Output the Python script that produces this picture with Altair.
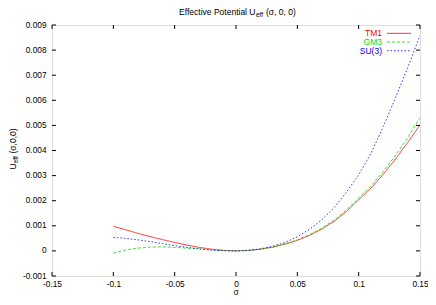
import altair as alt
import pandas as pd

# ---- data ----
sigma = [-0.10, -0.09, -0.08, -0.07, -0.06, -0.05, -0.04, -0.03, -0.02, -0.01, 0.0,
         0.01, 0.02, 0.03, 0.04, 0.05, 0.06, 0.07, 0.08, 0.09, 0.10,
         0.11, 0.12, 0.13, 0.14, 0.15]
tm1 = [0.00098, 0.00084, 0.00070, 0.00057, 0.00045, 0.00034, 0.00023, 0.00014, 0.00007, 0.00002, 0.0,
       0.00002, 0.00007, 0.00015, 0.00027, 0.00042, 0.00062, 0.00087, 0.00118, 0.00157, 0.00204,
       0.00250, 0.00305, 0.00366, 0.00432, 0.00502]
gm3 = [-0.00009, 0.00004, 0.00011, 0.00015, 0.00016, 0.00014, 0.00011, 0.00008, 0.00004, 0.00001, 0.0,
       0.00002, 0.00007, 0.00015, 0.00028, 0.00044, 0.00065, 0.00091, 0.00123, 0.00163, 0.00211,
       0.00259, 0.00316, 0.00380, 0.00451, 0.00531]
su3 = [0.00054, 0.00050, 0.00044, 0.00037, 0.00029, 0.00021, 0.00014, 0.00008, 0.00003, 0.00001, 0.0,
       0.00002, 0.00008, 0.00019, 0.00034, 0.00056, 0.00086, 0.00124, 0.00172, 0.00234, 0.00303,
       0.00388, 0.00495, 0.00610, 0.00730, 0.00858]
series_names = ["TM1", "GM3", "SU(3)"]
series_colors = ["#ff0000", "#00e000", "#0000ff"]
series_dash = [[1, 0], [3, 2], [1.5, 2]]
x_ticks = [-0.15, -0.1, -0.05, 0.0, 0.05, 0.1, 0.15]
y_ticks = [-0.001, 0.0, 0.001, 0.002, 0.003, 0.004, 0.005, 0.006, 0.007, 0.008, 0.009]

W, H = 368, 251
FONT = "Liberation Sans"

rows = []
for name, vals in zip(series_names, [tm1, gm3, su3]):
    for s, v in zip(sigma, vals):
        rows.append({"sigma": s, "U": v, "model": name})
df = pd.DataFrame(rows)

xs = alt.Scale(domain=[-0.15, 0.15], nice=False, zero=False)
ys = alt.Scale(domain=[-0.001, 0.009], nice=False, zero=False)

x_axis = alt.Axis(values=x_ticks, ticks=False, domain=False, grid=False,
                  labelExpr="datum.value == 0 ? '0' : replace(format(datum.value, ''), '\u2212', '-')",
                  labelFontSize=8.3, labelFont=FONT, labelColor="black", labelPadding=3,
                  labelFlush=False, title=None)
y_axis = alt.Axis(values=y_ticks, ticks=False, domain=False, grid=False,
                  labelExpr="abs(datum.value) < 1e-9 ? '0' : replace(format(datum.value, '.3f'), '\u2212', '-')",
                  labelFontSize=8.3, labelFont=FONT, labelColor="black", labelPadding=6,
                  labelFlush=False, title=None)

lines = alt.Chart(df).mark_line(strokeWidth=1, clip=True, opacity=0.8).encode(
    x=alt.X("sigma:Q", scale=xs, axis=x_axis),
    y=alt.Y("U:Q", scale=ys, axis=y_axis),
    color=alt.Color("model:N", scale=alt.Scale(domain=series_names, range=series_colors), legend=None),
    strokeDash=alt.StrokeDash("model:N", scale=alt.Scale(domain=series_names, range=series_dash), legend=None),
    order="sigma:Q",
)

xt = pd.DataFrame({"sigma": x_ticks})
yt = pd.DataFrame({"U": y_ticks})
tick_style = dict(color="black", strokeWidth=1)
ticks = [
    alt.Chart(xt).mark_rule(**tick_style).encode(x=alt.X("sigma:Q", scale=xs, axis=x_axis), y=alt.value(H), y2=alt.value(H - 4)),
    alt.Chart(xt).mark_rule(**tick_style).encode(x=alt.X("sigma:Q", scale=xs, axis=x_axis), y=alt.value(0), y2=alt.value(4)),
    alt.Chart(yt).mark_rule(**tick_style).encode(y=alt.Y("U:Q", scale=ys, axis=y_axis), x=alt.value(0), x2=alt.value(4)),
    alt.Chart(yt).mark_rule(**tick_style).encode(y=alt.Y("U:Q", scale=ys, axis=y_axis), x=alt.value(W), x2=alt.value(W - 4)),
]

one = pd.DataFrame({"a": [0]})

def txt(s, x, y, size, align="left", angle=0, color="black", baseline="middle"):
    return alt.Chart(one).mark_text(text=s, font=FONT, fontSize=size, align=align, angle=angle,
                                    baseline=baseline, color=color).encode(x=alt.value(x), y=alt.value(y))

# legend (gnuplot style: label then line sample)
legend_layers = []
for i, (name, col, dash) in enumerate(zip(series_names, series_colors, series_dash)):
    yy = 8.3 + i * 8.7
    legend_layers.append(txt(name, 330, yy, 8.5, align="right", color=col))
    legend_layers.append(alt.Chart(one).mark_rule(color=col, strokeWidth=1, strokeDash=dash, opacity=0.8).encode(
        x=alt.value(335), x2=alt.value(359), y=alt.value(yy), y2=alt.value(yy)))

# title with subscript
title_layers = [
    txt("Effective Potential U", 203.5, -12.8, 8.5, align="right"),
    txt("eff", 204, -10.3, 6.5),
    txt("(σ, 0, 0)", 214, -12.8, 8.5),
]
# y title with subscript (rotated)
ytitle_layers = [
    txt("U", -39, 144.5, 8.5, angle=270),
    txt("eff", -36.5, 138.3, 6.5, angle=270),
    txt("(σ,0,0)", -39, 128.5, 8.5, angle=270),
]
# x title
xtitle = txt("σ", W / 2, H + 21, 8.5, align="center", baseline="bottom")

chart = alt.layer(lines, *ticks, *legend_layers, *title_layers, *ytitle_layers, xtitle).properties(
    width=W, height=H,
    autosize=alt.AutoSizeParams(type="none"),
    padding={"left": 44, "top": 17, "right": 8, "bottom": 21},
).configure_view(stroke="black", strokeWidth=1).configure(background="white")

chart.save("out.html", embed_options={"renderer": "svg", "actions": False})
